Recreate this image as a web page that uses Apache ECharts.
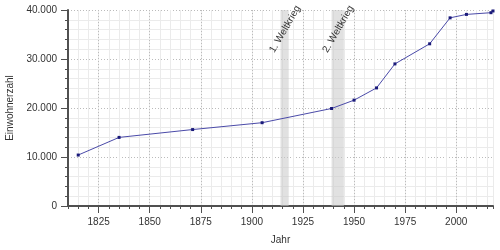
<!DOCTYPE html>
<html><head><meta charset="utf-8">
<script src="https://cdn.jsdelivr.net/npm/echarts@6/dist/echarts.min.js"></script>
<style>html,body{margin:0;padding:0;background:#fff}#c{width:500px;height:250px}</style>
</head><body><div id="c"></div>
<script>
const years = [1815, 1835, 1871, 1905, 1939, 1950, 1961, 1970, 1987, 1997, 2005, 2017, 2018];
const population = [10400, 14000, 15600, 17000, 19900, 21600, 24100, 29000, 33100, 38400, 39100, 39450, 39800];
const majorYearTicks = [1825, 1850, 1875, 1900, 1925, 1950, 1975, 2000];
const warNames = ['1. Weltkrieg', '2. Weltkrieg'];
const warStart = [1914, 1939];
const warEnd = [1918, 1945];

const FONT = 'Liberation Sans';
const TXT = '#333';
const AX = '#505050';
const fmt = v => String(v).replace(/\B(?=(\d{3})+(?!\d))/g, '.');

const chart = echarts.init(document.getElementById('c'), null, {renderer: 'canvas'});
chart.setOption({
  animation: false,
  backgroundColor: '#fff',
  textStyle: {fontFamily: FONT},
  grid: {left: 68, right: 7, top: 10, bottom: 44, containLabel: false, outerBoundsMode: 'none'},
  xAxis: [{
    type: 'value', min: 1810, max: 2018, interval: 5, position: 'bottom',
    axisLine: {show: true, onZero: false, lineStyle: {color: AX, width: 2}},
    axisTick: {show: true, length: 3, lineStyle: {color: AX}},
    axisLabel: {show: false},
    splitLine: {show: true, lineStyle: {color: '#ebebeb', width: 1}}
  }, {
    type: 'value', min: 1810, max: 2018, position: 'bottom',
    axisLine: {show: false, onZero: false},
    axisTick: {show: true, length: 7, customValues: majorYearTicks, lineStyle: {color: AX}},
    axisLabel: {show: true, customValues: majorYearTicks, formatter: v => String(v), margin: 11, color: TXT, fontSize: 10, fontFamily: FONT},
    splitLine: {show: true, lineStyle: {color: '#bbb', type: [1, 2], width: 1}},
    name: 'Jahr', nameLocation: 'middle', nameGap: 29,
    nameTextStyle: {color: TXT, fontSize: 10, fontFamily: FONT}
  }],
  yAxis: {
    type: 'value', min: 0, max: 40000, interval: 10000,
    axisLine: {show: true, lineStyle: {color: AX, width: 2}},
    axisTick: {show: true, length: 7, lineStyle: {color: AX}},
    minorTick: {show: true, splitNumber: 5, length: 3, lineStyle: {color: AX}},
    minorSplitLine: {show: true, lineStyle: {color: '#ebebeb', width: 1}},
    splitLine: {show: true, lineStyle: {color: '#bbb', type: [1, 2], width: 1}},
    axisLabel: {formatter: fmt, margin: 11, color: TXT, fontSize: 10, fontFamily: FONT},
    name: 'Einwohnerzahl', nameLocation: 'middle', nameGap: 48, nameRotate: 90,
    nameTextStyle: {color: TXT, fontSize: 10, fontFamily: FONT}
  },
  series: [{
    type: 'line',
    xAxisIndex: 0,
    data: years.map((y, i) => [y, population[i]]),
    symbol: 'rect', symbolSize: 3, showSymbol: true, showAllSymbol: true,
    itemStyle: {color: '#1a1a7a'},
    lineStyle: {color: '#4a4aa8', width: 1},
    z: 5,
    markArea: {
      silent: true,
      itemStyle: {color: 'rgba(200,200,200,0.55)'},
      label: {
        show: true, position: ['50%', 20], offset: [1, 0], rotate: 60,
        align: 'center', verticalAlign: 'middle',
        color: TXT, fontSize: 10, fontFamily: FONT
      },
      data: warNames.map((n, i) => [{name: n, xAxis: warStart[i]}, {xAxis: warEnd[i]}])
    }
  }]
});
</script>
</body></html>
